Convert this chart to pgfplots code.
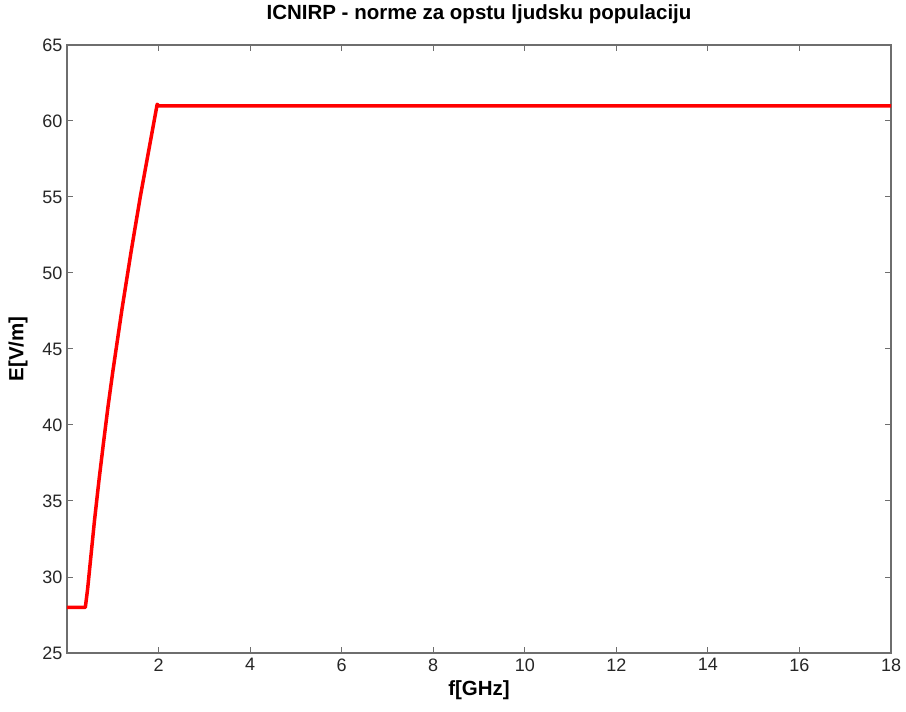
\documentclass[border=0pt]{standalone}
\usepackage{pgfplots}
\pgfplotsset{compat=1.18}
\usepackage{fontspec}
\setmainfont{Liberation Sans}
\definecolor{axgray}{RGB}{110,110,110}
\begin{document}
\begin{tikzpicture}
\begin{axis}[
  scale only axis,
  width=824pt, height=608pt,
  xmin=0, xmax=18, ymin=25, ymax=65,
  xtick={2,4,...,18}, ytick={25,30,...,65},
  tick align=inside, major tick length=6pt,
  axis line style={axgray, line width=1.2pt},
  every tick/.style={axgray, line width=1pt},
  tick label style={font=\fontsize{18}{20}\selectfont, text=black!85},
  xticklabel style={yshift=-2pt},
  yticklabel style={xshift=-1pt},
  /pgf/number format/assume math mode=true,
  title={\bfseries ICNIRP - norme za opstu ljudsku populaciju},
  title style={font=\fontsize{20.5}{22}\selectfont, at={(axis description cs:0.5,1.041)}, anchor=center},
  xlabel={\bfseries f[GHz]}, ylabel={\bfseries E[V/m]},
  label style={font=\fontsize{20.5}{22}\selectfont},
  xlabel style={at={(axis description cs:0.5,-0.062)}, anchor=center},
  ylabel style={at={(axis description cs:-0.0595,0.5)}, anchor=center, rotate=0},
  clip=false,
]
\addplot[red, line width=3.5pt, line join=round] coordinates {
(0,28) (0.4,28) (0.45,29.2) (0.5,30.7) (0.6,33.7) (0.7,36.4) (0.8,38.9)
(0.9,41.3) (1.0,43.5) (1.2,47.6) (1.4,51.4) (1.6,55.0) (1.8,58.3) (1.97,61.1) (2.0,61) (18,61)
};
\end{axis}
\path ([shift={(-67pt,-58pt)}]current axis.south west) rectangle ([shift={(15pt,45pt)}]current axis.north east);
\end{tikzpicture}
\end{document}
